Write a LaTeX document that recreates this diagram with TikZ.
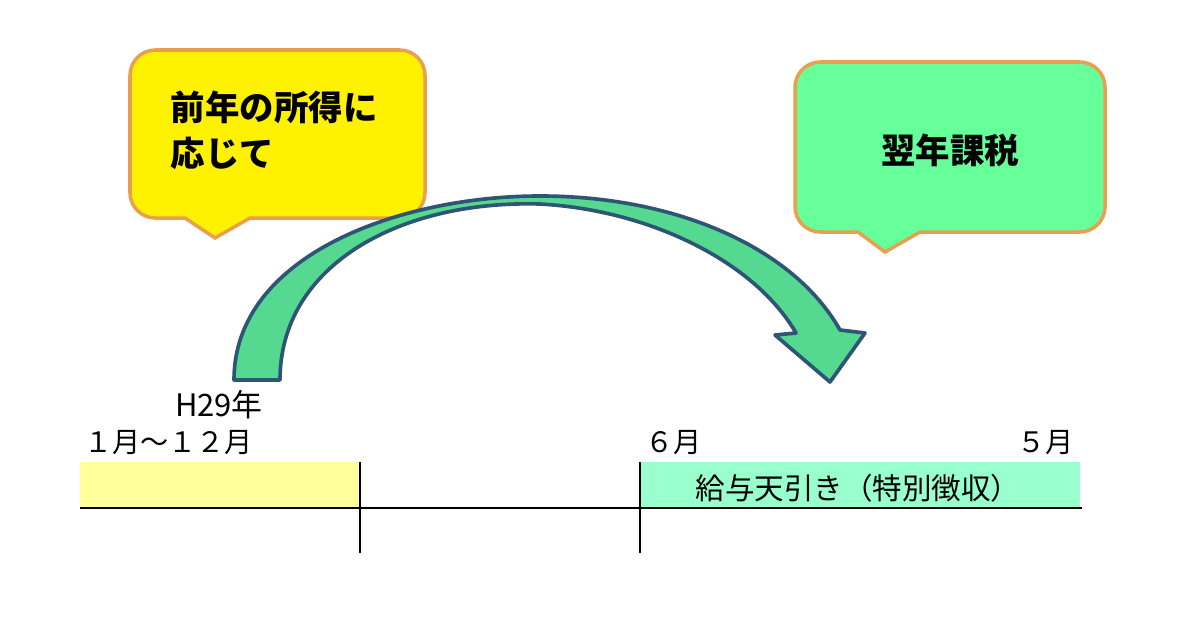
\documentclass[tikz,border=0pt]{standalone}
\usepackage{fontspec}
\setmainfont{Noto Sans CJK JP}
\usetikzlibrary{positioning}

\definecolor{calloutline}{HTML}{E8A050}
\definecolor{arrowline}{HTML}{2F5575}
\definecolor{arrowfill}{HTML}{55D890}
\definecolor{nextgreen}{HTML}{66FF99}
\definecolor{barYellow}{HTML}{FFFF99}
\definecolor{barGreen}{HTML}{99FFCC}

\begin{document}
\begin{tikzpicture}[
  x=0.025cm, y=-0.025cm,
  callout/.style = {draw=calloutline, line width=2.5pt},
  bigtext/.style = {font=\fontsize{24.5}{33}\selectfont\bfseries, align=left},
  smalltext/.style = {font=\fontsize{20}{22}\selectfont, inner sep=0pt},
  timeline/.style = {line width=1.6pt}
]
\useasboundingbox (0,0) rectangle (1200,633);

% ======================================================
% Callouts
% ======================================================
\draw[callout, fill=yellow]
  (250,218) -- (215,238) -- (185,218) [rounded corners=18] -- (130,218)
  -- (130,50) -- (425,50) -- (425,218) [sharp corners] -- cycle;
\node[bigtext, anchor=west] (prev) at (166,130) {前年の所得に\\応じて};

\draw[callout, fill=nextgreen]
  (920,232) -- (885,252) -- (858,232) [rounded corners=18] -- (795,232)
  -- (795,62) -- (1105,62) -- (1105,232) [sharp corners] -- cycle;
\node[bigtext] (next) at (950,150) {翌年課税};

% ======================================================
% Curved arrow
% ======================================================
\draw[arrowline, line width=2.6pt, fill=arrowfill, line join=round]
  (234,380) .. controls (234,255) and (400,196) .. (540,196)
  .. controls (680,196) and (795,250) .. (840,330)
  -- (865,333) -- (830,382) -- (775,335) -- (796,333)
  .. controls (755,262) and (650,210) .. (540,204)
  .. controls (400,200) and (280,265) .. (280,380) -- cycle;

% ======================================================
% Timeline
% ======================================================
\fill[barYellow] (80,462) rectangle (358,508);
\fill[barGreen] (640,462) rectangle (1080,508);
\node[smalltext, font=\fontsize{21}{24}\selectfont] (wage) at (858,488) {給与天引き（特別徴収）};

\node[smalltext, font=\fontsize{22}{24}\selectfont] (year) at (219,405) {H29年};
\node[smalltext, anchor=west] (jan) at (84,443) {１月～１２月};
\node[smalltext, anchor=west] (jun) at (645,443) {６月};
\node[smalltext, anchor=east] (may) at (1074,443) {５月};

\coordinate (lineL) at (80,508);
\coordinate (lineR) at (1082,508);
\draw[timeline] (lineL) -- (lineR);
\draw[timeline] (360,462) -- (360,553);
\draw[timeline] (640,462) -- (640,553);
\end{tikzpicture}
\end{document}
